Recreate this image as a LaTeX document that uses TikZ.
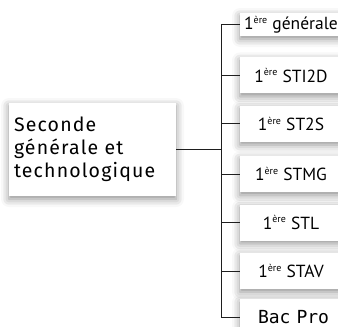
\documentclass[tikz,border=0pt]{standalone}
\usepackage{fontspec}
\setmainfont{PT Sans}
\newfontfamily\leftfont[LetterSpace=6]{Fira Sans}
\newfontfamily\monofont{DejaVu Sans Mono}
\usetikzlibrary{positioning, calc, shadows, shadows.blur}
\definecolor{linegray}{RGB}{30,30,30}
\newcommand{\ere}{\textsuperscript{\fontsize{10}{10}\selectfont ère}}

\begin{document}
\begin{tikzpicture}[
        x=1pt, y=-1pt,
        node distance=12pt,
        box/.style={rectangle, fill=white, minimum width=102pt, minimum height=36pt, inner sep=0pt, align=center, font=\fontsize{17.5}{19}\selectfont,
            blur shadow={shadow xshift=0pt, shadow yshift=-3pt, shadow blur radius=8pt, shadow opacity=45}},
        mainbox/.style={box, minimum width=167pt, minimum height=93pt, text width=157pt, align=left, inner xsep=5pt, font=\leftfont\fontsize{19.5}{23}\selectfont},
        monobox/.style={box, text width=66pt, align=left, inner xsep=18pt, font=\monofont\fontsize{18}{20}\selectfont},
        link/.style={draw=linegray, line width=0.9pt}
    ]
        \useasboundingbox (0,0) rectangle (338,327);

        \node[mainbox] (seconde) at (92.5,149.5) {Seconde\\générale et\\technologique};

        \node[box, minimum height=23pt] (gen) at (291,24.5) {1\ere{} générale};
        \node[box, below=21pt of gen] (sti) {1\ere{} STI2D};
        \node[box, below=12pt of sti] (sts) {1\ere{} ST2S};
        \node[box, below=14pt of sts] (stmg) {1\ere{} STMG};
        \node[box, below=12pt of stmg] (stl) {1\ere{} STL};
        \node[box, below=12pt of stl] (stav) {1\ere{} STAV};
        \node[monobox, below=10pt of stav] (bac) {\mbox{Bac Pro}};

        % tree lines
        \coordinate (split) at ($(seconde.east)+(45pt,0)$);
        \draw[link] (seconde.east) -- (split);
        \draw[link] (split |- gen.west) -- (split |- bac.west);
        \foreach \n in {gen, sti, sts, stmg, stl, stav, bac}
            \draw[link] (split |- \n.west) -- (\n.west);
    \end{tikzpicture}
\end{document}
